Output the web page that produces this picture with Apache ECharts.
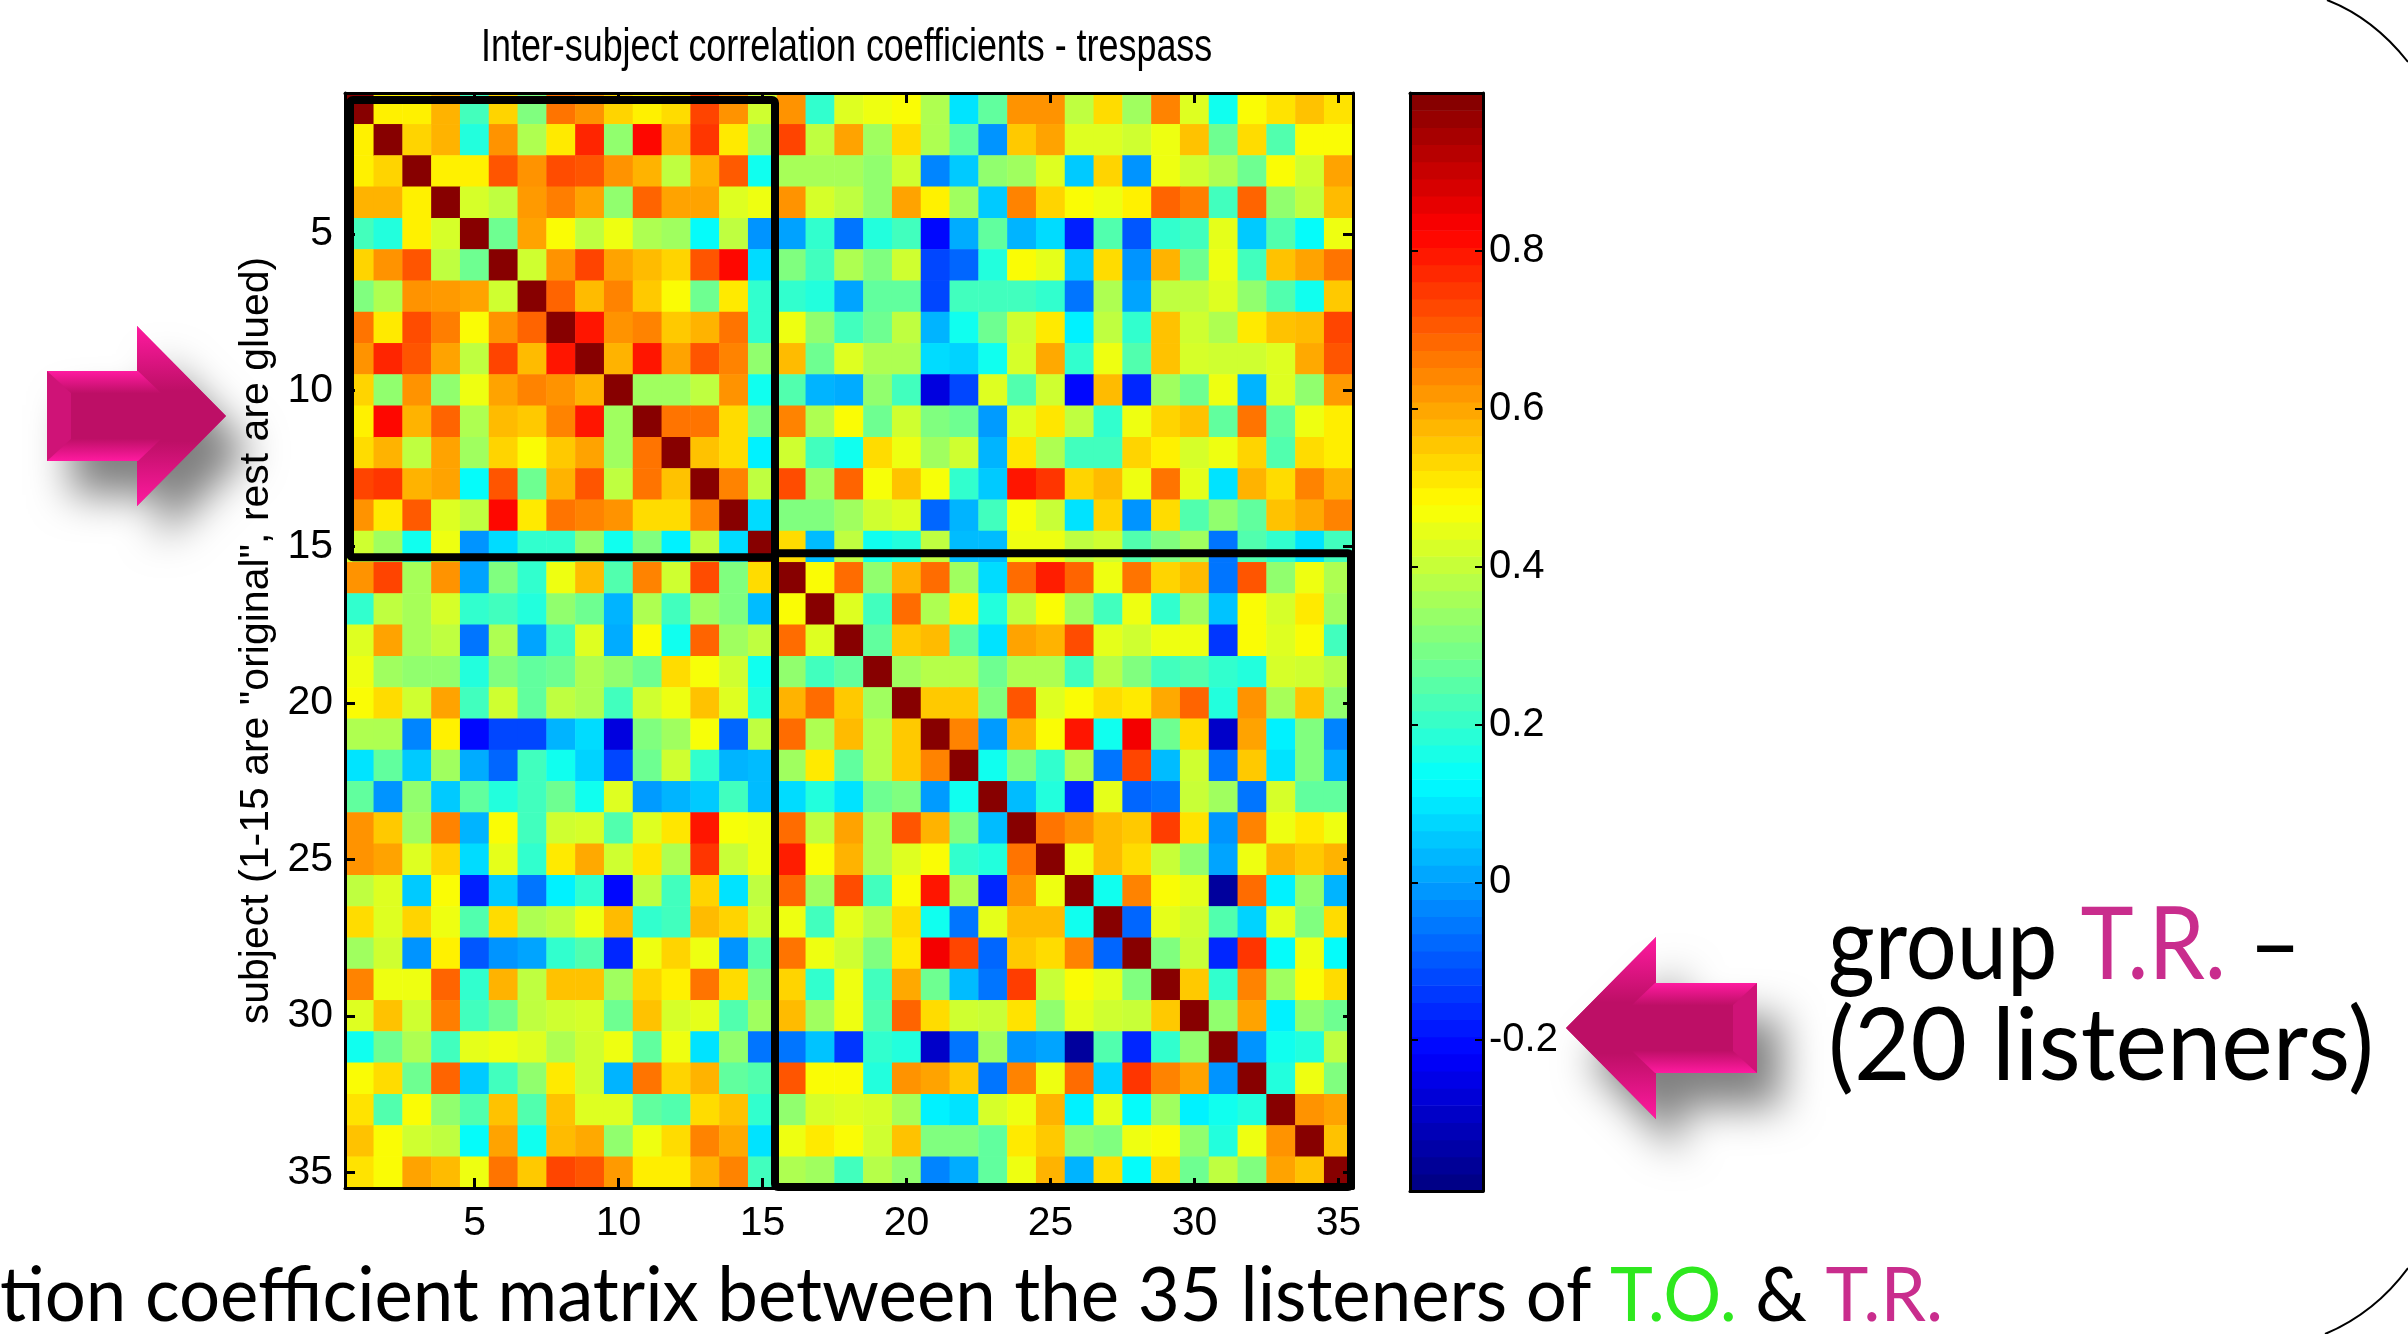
<!DOCTYPE html>
<html><head><meta charset="utf-8">
<style>html,body{margin:0;padding:0;background:#fff}#c{width:2408px;height:1334px}</style>
<script src="https://cdn.jsdelivr.net/npm/echarts@6/dist/echarts.min.js"></script>
</head><body><div id="c"></div>
<script>
var subjects = []; for (var s = 1; s <= 35; s++) subjects.push(String(s));
var tickSubjects = ['5','10','15','20','25','30','35'];
var colorbarTicks = [-0.2,0,0.2,0.4,0.6,0.8];
var valueMin = -0.391, valueMax = 1;
var groupBlocks = [[1,15,-5,-2,-7,-5],[16,35,2,-2,9,-1]];
// upper triangle of the symmetric matrix: rowNN holds columns NN+1..35
var row01=[.50,.50,.586,.22,.54,.305,.674,.63,.54,.50,.53,.74,.63,.415,.63,.196,.436,.458,.479,.371,.09,.262,.63,.63,.393,.53,.35,.652,.436,.15,.479,.52,.565,.52];
var row02=[.54,.586,.175,.63,.371,.51,.783,.33,.826,.586,.76,.51,.35,.74,.393,.608,.35,.53,.37,.262,-.02,.555,.608,.436,.436,.415,.458,.565,.28,.53,.24,.479,.479];
var row03=[.50,.50,.717,.63,.73,.717,.63,.586,.393,.586,.71,.15,.36,.36,.36,.33,.415,-.04,.055,.33,.35,.436,.055,.54,-.02,.458,.415,.37,.28,.479,.415,.608];
var row04=[.425,.393,.62,.66,.608,.33,.696,.608,.608,.436,.458,.63,.425,.393,.33,.608,.50,.35,.055,.652,.54,.479,.458,.50,.696,.66,.218,.696,.33,.393,.575];
var row05=[.28,.608,.479,.393,.458,.37,.35,.131,.393,-.02,0,.196,-.064,.175,.218,-.216,.013,.262,.024,.08,-.183,.24,-.107,.196,.218,.445,.055,.24,.131,.458];
var row06=[.415,.63,.74,.608,.575,.54,.717,.826,.08,.305,.218,.37,.305,.415,-.129,-.085,.175,.479,.445,.055,.53,-.02,.586,.28,.458,.218,.565,.608,.674];
var row07=[.696,.575,.652,.555,.479,.28,.51,.196,.196,.175,.002,.262,.262,-.129,.218,.218,.218,.196,-.064,.37,.002,.393,.393,.436,.33,.24,.15,.555];
var row08=[.805,.63,.652,.555,.586,.674,.196,.458,.33,.218,.28,.393,.024,.15,.28,.415,.51,.11,.393,.196,.565,.415,.37,.51,.565,.575,.739];
var row09=[.586,.805,.608,.717,.652,.33,.575,.28,.436,.37,.37,.08,.067,.15,.425,.60,.196,.458,.24,.565,.425,.415,.415,.436,.60,.717];
var row10=[.35,.35,.393,.63,.15,.24,.024,.013,.33,.218,-.27,-.129,.436,.24,.415,-.216,.575,-.173,.35,.28,.458,.024,.436,.33,.62];
var row11=[.674,.674,.53,.305,.652,.37,.479,.28,.415,.305,.28,-.01,.436,.515,.393,.196,.458,.54,.565,.262,.674,.262,.458,.505];
var row12=[.565,.53,.11,.415,.218,.15,.53,.458,.35,.415,.024,.515,.37,.218,.218,.54,.50,.425,.458,.54,.24,.53,.505];
var row13=[.652,.393,.73,.35,.696,.47,.565,.47,.196,.055,.805,.761,.54,.575,.458,.674,.445,.089,.586,.53,.652,.586];
var row14=[.08,.305,.305,.35,.415,.436,-.085,.024,.218,.47,.405,.089,.54,-.02,.53,.24,.33,.262,.565,.60,.652];
var row15=[.53,.035,.393,.15,.175,.393,.035,.035,.458,.458,.393,.415,.24,.305,.35,-.064,.24,.196,.089,.218];
var row16=[.479,.685,.33,.586,.685,.35,.08,.685,.795,.696,.458,.674,.54,.575,-.064,.717,.33,.458,.37];
var row17=[.436,.218,.685,.37,.51,.175,.393,.479,.35,.218,.458,.196,.35,.045,.479,.425,.51,.35];
var row18=[.262,.555,.575,.262,.089,.608,.586,.73,.445,.415,.458,.458,-.151,.479,.436,.479,.218];
var row19=[.35,.38,.38,.28,.37,.37,.218,.38,.305,.218,.24,.196,.175,.425,.415,.38];
var row20=[.555,.555,.305,.717,.436,.479,.53,.51,.60,.696,.175,.63,.36,.565,.33];
var row21=[.652,-.01,.586,.479,.805,.15,.85,.28,.53,-.30,.608,.11,.305,-.042];
var row22=[.15,.305,.196,.37,-.064,.739,.035,.415,-.064,.555,.089,.305,.013];
var row23=[.035,.175,-.173,.445,-.085,-.064,.405,.35,-.064,.425,.262,.262];
var row24=[.674,.63,.575,.555,.75,.52,-.02,.652,.458,.51,.458];
var row25=[.458,.575,.53,.405,.33,.002,.458,.586,.555,.586];
var row26=[.15,.652,.479,.445,-.36,.685,.11,.33,.024];
var row27=[-.085,.445,.415,.24,.067,.445,.305,.53];
var row28=[.305,.405,-.173,.761,.131,.458,.131];
var row29=[.555,.196,.652,.35,.479,.53];
var row30=[.33,.608,.11,.33,.28];
var row31=[-.02,.15,.175,.393];
var row32=[.175,.458,.305];
var row33=[.63,.608];
var row34=[.565];
var upperRows=[row01,row02,row03,row04,row05,row06,row07,row08,row09,row10,row11,row12,row13,row14,row15,row16,row17,row18,row19,row20,row21,row22,row23,row24,row25,row26,row27,row28,row29,row30,row31,row32,row33,row34];

// MATLAB jet, 64 levels
function jetColor(i,n){
  var t=(i+0.5)/n;
  function c(v){return Math.round(255*Math.max(0,Math.min(1,v)));}
  return 'rgb('+c(Math.min(4*t-1.5,-4*t+4.5))+','+c(Math.min(4*t-0.5,-4*t+3.5))+','+c(Math.min(4*t+0.5,-4*t+2.5))+')';
}
var jet=[]; for(var k=0;k<64;k++) jet.push(jetColor(k,64));
var colorbarData=jet.map(function(col,i){var st=(valueMax-valueMin)/64;return [valueMin+i*st,valueMin+(i+1)*st,i];});

var cells=[];
for(var i=0;i<35;i++){
  cells.push([i,i,1]);
  var r=upperRows[i]||[];
  for(var j=0;j<r.length;j++){cells.push([i+1+j,i,r[j]]);cells.push([i,i+1+j,r[j]]);}
}

var axisFont='"Liberation Sans Narrow","Liberation Sans",sans-serif';
var handFont='Lato,"Noto Sans",sans-serif';
var pink='#c92d8d', green='#2ee81e';
function onTick(idx){return tickSubjects.indexOf(subjects[idx])>=0;}

function arrow(tail,head,tip,cy,hh,bh){
  var d=tip>tail?1:-1;
  var outer=[[tail,cy-bh],[head,cy-bh],[head,cy-hh],[tip,cy],[head,cy+hh],[head,cy+bh],[tail,cy+bh]];
  function bevel(edge,mid){return {type:'linear',x:0,y:0,x2:0,y2:1,colorStops:[{offset:0,color:edge},{offset:mid,color:'#bd0f66'},{offset:1-mid,color:'#bd0f66'},{offset:1,color:edge}]};}
  return [
    {type:'polygon',z:10,shape:{points:outer},style:{fill:'#d3127c',shadowBlur:40,shadowColor:'rgba(0,0,0,0.5)',shadowOffsetX:24,shadowOffsetY:34}},
    {type:'polygon',z:11,shape:{points:[[head,cy-hh],[tip,cy],[head,cy+hh]]},style:{fill:bevel('#ff1aa0',0.36)}},
    {type:'polygon',z:12,shape:{points:[[tail,cy-bh],[head+d*1,cy-bh],[head+d*24,cy-bh+22],[head+d*24,cy+bh-22],[head+d*1,cy+bh],[tail,cy+bh]]},style:{fill:bevel('#ff1aa0',0.25)}},
    {type:'polygon',z:13,shape:{points:[[tail,cy-bh],[tail+d*24,cy-bh+22],[tail+d*24,cy+bh-22],[tail,cy+bh]]},style:{fill:'#cf1377'}}
  ];
}
function handText(x,y,size,sx,text){
  return {type:'text',z:20,x:x,y:y,scaleX:sx,style:{text:text,font:'400 '+size+'px '+handFont,fill:'#000',textVerticalAlign:'bottom',
    rich:{p:{fill:pink,font:'400 '+size+'px '+handFont},g:{fill:green,font:'400 '+size+'px '+handFont},k:{fill:'#000',font:'400 '+size+'px '+handFont}}}};
}
var graphics=[].concat(
  arrow(47,137,226,416,90,45),
  arrow(1757,1656,1566,1028,91,45),
  [
    handText(1828,997,100,0.9,'{k|group }{p|T.R.}{k| –}'),
    handText(1828,1098,100,0.975,'{k|(20 listeners)}'),
    handText(0,1334,76,0.955,'{k|tion coefficient matrix between the 35 listeners of }{g|T.O.}{k| & }{p|T.R.}'),
    {type:'text',z:20,x:481,y:71,scaleX:0.78,style:{text:'Inter-subject correlation coefficients - trespass',font:'400 46px '+axisFont,fill:'#000',textVerticalAlign:'bottom'}},
    {type:'bezierCurve',z:5,shape:{x1:2327,y1:0,cpx1:2358,cpy1:12,cpx2:2386,cpy2:34,x2:2408,y2:62},style:{fill:null,stroke:'#000',lineWidth:2}},
    {type:'bezierCurve',z:5,shape:{x1:2408,y1:1268,cpx1:2386,cpy1:1298,cpx2:2358,cpy2:1320,x2:2325,y2:1334},style:{fill:null,stroke:'#000',lineWidth:2}}
  ]
);

var frameTick={show:true,inside:true,length:10,alignWithLabel:true,interval:onTick,lineStyle:{color:'#000',width:3}};
var frameLine={show:true,onZero:false,lineStyle:{color:'#000',width:3}};
var cbTick={show:true,inside:true,length:8,customValues:colorbarTicks,lineStyle:{color:'#000',width:2}};

var option={
  animation:false,
  backgroundColor:'#fff',
  grid:[
    {left:345,top:93,width:1008,height:1095,containLabel:false},
    {left:1410,top:93,width:73,height:1098,containLabel:false}
  ],
  xAxis:[
    {gridIndex:0,type:'category',data:subjects,position:'bottom',z:6,axisLine:frameLine,axisTick:frameTick,splitLine:{show:false},
      axisLabel:{interval:onTick,margin:15,fontFamily:axisFont,fontSize:41,color:'#000'}},
    {gridIndex:0,type:'category',data:subjects,position:'top',z:6,axisLine:frameLine,axisTick:frameTick,axisLabel:{show:false},splitLine:{show:false}},
    {gridIndex:1,type:'value',min:0,max:1,position:'bottom',z:6,axisLine:frameLine,axisTick:{show:false},axisLabel:{show:false},splitLine:{show:false}},
    {gridIndex:1,type:'value',min:0,max:1,position:'top',z:6,axisLine:frameLine,axisTick:{show:false},axisLabel:{show:false},splitLine:{show:false}}
  ],
  yAxis:[
    {gridIndex:0,type:'category',data:subjects,inverse:true,position:'left',z:6,axisLine:frameLine,axisTick:frameTick,splitLine:{show:false},
      name:'subject (1-15 are "original", rest are glued)',nameLocation:'middle',nameRotate:90,nameGap:68,
      nameTextStyle:{fontFamily:'"Liberation Sans",sans-serif',fontSize:41,color:'#000'},
      axisLabel:{interval:onTick,margin:12,fontFamily:axisFont,fontSize:41,color:'#000'}},
    {gridIndex:0,type:'category',data:subjects,inverse:true,position:'right',z:6,axisLine:frameLine,axisTick:frameTick,axisLabel:{show:false},splitLine:{show:false}},
    {gridIndex:1,type:'value',min:valueMin,max:valueMax,position:'right',z:6,axisLine:frameLine,axisTick:cbTick,splitLine:{show:false},
      axisLabel:{customValues:colorbarTicks,margin:6,fontFamily:axisFont,fontSize:40,color:'#000',formatter:function(v){return String(Math.round(v*10)/10);}}},
    {gridIndex:1,type:'value',min:valueMin,max:valueMax,position:'left',z:6,axisLine:frameLine,axisTick:cbTick,axisLabel:{show:false},splitLine:{show:false}}
  ],
  visualMap:{show:false,type:'continuous',seriesIndex:0,dimension:2,min:valueMin,max:valueMax,inRange:{color:jet}},
  series:[
    {type:'heatmap',xAxisIndex:0,yAxisIndex:0,data:cells,z:2,itemStyle:{borderWidth:0},emphasis:{disabled:true}},
    {type:'custom',xAxisIndex:0,yAxisIndex:0,z:4,data:groupBlocks,clip:false,
      renderItem:function(params,api){
        var a=api.coord([api.value(0)-1,api.value(0)-1]), b=api.coord([api.value(1)-1,api.value(1)-1]), sz=api.size([1,1]);
        var x0=a[0]-sz[0]/2-api.value(2), x1=b[0]+sz[0]/2+api.value(3);
        var y0=a[1]-sz[1]/2-api.value(4), y1=b[1]+sz[1]/2+api.value(5);
        return {type:'rect',shape:{x:x0,y:y0,width:x1-x0,height:y1-y0,r:3},style:{fill:null,stroke:'#000',lineWidth:8}};
      }},
    {type:'custom',xAxisIndex:2,yAxisIndex:2,z:2,data:colorbarData,clip:true,
      renderItem:function(params,api){
        var a=api.coord([0,api.value(0)]), b=api.coord([1,api.value(1)]);
        return {type:'rect',shape:{x:a[0],y:b[1],width:b[0]-a[0],height:a[1]-b[1]+0.6},style:{fill:jet[api.value(2)]}};
      }}
  ],
  graphic:graphics
};
var chart=echarts.init(document.getElementById('c'),null,{renderer:'canvas'});
chart.setOption(option);
</script></body></html>
